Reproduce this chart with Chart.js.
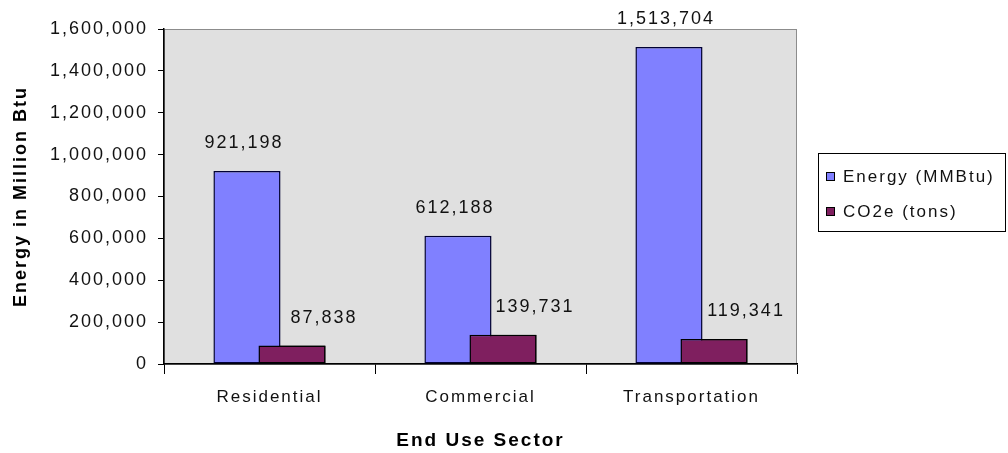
<!DOCTYPE html>
<html>
<head>
<meta charset="utf-8">
<script src="https://cdn.jsdelivr.net/npm/chart.js@4/dist/chart.umd.min.js"></script>
<style>
  html, body { margin: 0; padding: 0; background: #fff; }
  #wrap { width: 1008px; height: 453px; }
</style>
</head>
<body>
<div id="wrap"><canvas id="chart" width="1008" height="453"></canvas></div>
<script>
// Chart data
const sectors = ['Residential', 'Commercial', 'Transportation'];
const energyValues = [921198, 612188, 1513704];
const co2Values = [87838, 139731, 119341];
const seriesNames = ['Energy (MMBtu)', 'CO2e (tons)'];
const yTicks = [0, 200000, 400000, 600000, 800000, 1000000, 1200000, 1400000, 1600000];

const FONT = 'Arial, "Liberation Sans", sans-serif';
const fmt = v => v.toLocaleString('en-US');

// Old-Excel look: wide spaced glyphs everywhere
const spacingPlugin = {
    id: 'spacing',
    beforeUpdate(chart) { chart.ctx.letterSpacing = '2px'; },
    beforeDraw(chart) { chart.ctx.letterSpacing = '2px'; }
};

// Gray plot area with thin gray frame
const plotAreaPlugin = {
    id: 'plotArea',
    beforeDraw(chart) {
        const { ctx, chartArea: a } = chart;
        ctx.save();
        ctx.fillStyle = '#e0e0e0';
        ctx.fillRect(a.left, a.top, a.right - a.left, a.bottom - a.top);
        ctx.strokeStyle = '#8c8c8c';
        ctx.lineWidth = 1;
        ctx.strokeRect(a.left + 0.5, a.top + 0.5, a.right - a.left - 1, a.bottom - a.top);
        ctx.restore();
    }
};

// Second series sits in front of the first (Chart.js paints dataset 0 last)
const frontSeriesPlugin = {
    id: 'frontSeries',
    afterDatasetsDraw(chart) {
        const ctx = chart.ctx;
        ctx.save();
        chart.getDatasetMeta(1).data.forEach(bar => bar.draw(ctx, chart.chartArea));
        ctx.restore();
    }
};

// Value labels above bars
const valueLabelPlugin = {
    id: 'valueLabels',
    afterDatasetsDraw(chart) {
        const ctx = chart.ctx;
        const shifts = [-3, 32];
        ctx.save();
        ctx.font = '18px ' + FONT;
        ctx.fillStyle = '#111';
        ctx.textAlign = 'center';
        ctx.textBaseline = 'middle';
        chart.data.datasets.forEach((ds, i) => {
            chart.getDatasetMeta(i).data.forEach((bar, j) => {
                ctx.fillText(fmt(ds.data[j]), bar.x + shifts[i], bar.y - 28);
            });
        });
        ctx.restore();
    }
};

// Boxed legend on the right
const boxLegendPlugin = {
    id: 'boxLegend',
    afterDraw(chart) {
        const ctx = chart.ctx;
        const left = 818, top = 153, width = 188, height = 79;
        ctx.save();
        ctx.fillStyle = '#fff';
        ctx.fillRect(left, top, width, height);
        ctx.strokeStyle = '#000';
        ctx.lineWidth = 1;
        ctx.strokeRect(left + 0.5, top + 0.5, width - 1, height - 1);
        ctx.font = '17px ' + FONT;
        ctx.textBaseline = 'middle';
        chart.data.datasets.forEach((ds, i) => {
            const cy = top + 24 + i * 35;
            ctx.fillStyle = ds.backgroundColor;
            ctx.fillRect(left + 8, cy - 5, 9, 9);
            ctx.strokeStyle = '#000';
            ctx.strokeRect(left + 8.5, cy - 4.5, 8, 8);
            ctx.fillStyle = '#111';
            ctx.fillText(ds.label, left + 25, cy);
        });
        ctx.restore();
    }
};

new Chart(document.getElementById('chart').getContext('2d'), {
    type: 'bar',
    data: {
        labels: sectors,
        datasets: [
            {
                label: seriesNames[0],
                data: energyValues,
                backgroundColor: '#8080ff',
                borderColor: '#000033',
                borderWidth: 1.5,
                borderSkipped: false,
                categoryPercentage: 0.427,
                barPercentage: 1.49
            },
            {
                label: seriesNames[1],
                data: co2Values,
                backgroundColor: '#7f1f5f',
                borderColor: '#000000',
                borderWidth: 1.5,
                borderSkipped: false,
                categoryPercentage: 0.427,
                barPercentage: 1.49
            }
        ]
    },
    options: {
        responsive: false,
        animation: false,
        layout: { padding: { top: 29, right: 211, left: 0, bottom: 0 } },
        plugins: {
            legend: { display: false },
            tooltip: { enabled: false }
        },
        scales: {
            x: {
                grid: {
                    offset: true,
                    drawOnChartArea: false,
                    color: '#000',
                    tickLength: 10
                },
                border: { color: '#000', width: 1.5 },
                ticks: {
                    color: '#111',
                    font: { family: FONT, size: 17 },
                    padding: 13,
                    maxRotation: 0
                },
                title: {
                    display: true,
                    text: 'End Use Sector',
                    color: '#000',
                    font: { family: FONT, size: 19, weight: 'bold' },
                    padding: { top: 4, bottom: 1 }
                },
                afterFit(scale) { scale.height = 89; }
            },
            y: {
                min: 0,
                max: 1600000,
                afterBuildTicks(scale) { scale.ticks = yTicks.map(v => ({ value: v })); },
                grid: {
                    drawOnChartArea: false,
                    color: '#000',
                    tickLength: 6
                },
                border: { color: '#000', width: 1.5 },
                ticks: {
                    color: '#111',
                    font: { family: FONT, size: 18 },
                    padding: 10,
                    callback: v => fmt(v)
                },
                title: {
                    display: true,
                    text: 'Energy in Million Btu',
                    color: '#000',
                    font: { family: FONT, size: 18, weight: 'bold' },
                    padding: { top: 10, bottom: 0 }
                },
                afterFit(scale) { scale.width = 164; }
            }
        }
    },
    plugins: [spacingPlugin, plotAreaPlugin, frontSeriesPlugin, valueLabelPlugin, boxLegendPlugin]
});
</script>
</body>
</html>
